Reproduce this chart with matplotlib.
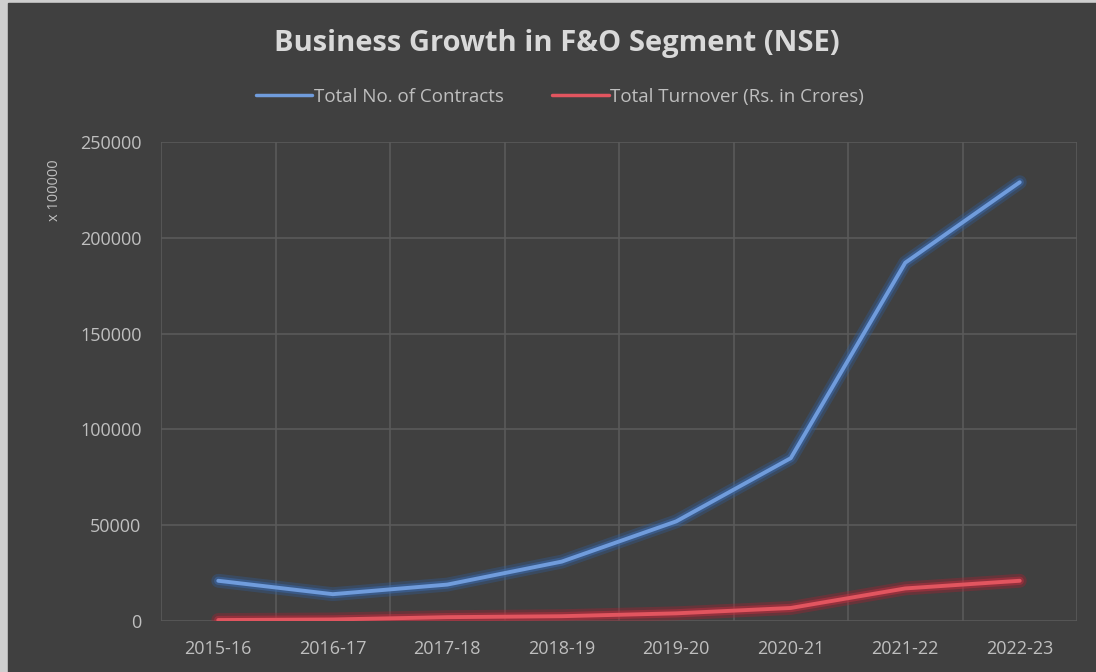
import matplotlib.pyplot as plt
import matplotlib.patches as mpatches
import matplotlib.patheffects as pe

# data
years = ['2015-16', '2016-17', '2017-18', '2018-19', '2019-20', '2020-21', '2021-22', '2022-23']
contracts = [21000, 14000, 19000, 31000, 52000, 85000, 187000, 229000]
turnover = [500, 800, 2000, 2500, 4000, 6800, 17000, 21000]
yticks = [0, 50000, 100000, 150000, 200000, 250000]

bg = '#404040'
txt = '#bfbfbf'
grid = '#5a5a5a'

fig = plt.figure(figsize=(10.96, 6.72), dpi=100)
fig.patch.set_facecolor('#cfcfcf')
# dark chart area, light strip on left and top like the screenshot
fig.patches.append(mpatches.Rectangle((8/1096, 0), 1, 1 - 3/672, transform=fig.transFigure,
                                      color=bg, zorder=-10))

ax = fig.add_axes([161/1096, 1 - 621/672, 916/1096, 479/672])
ax.set_facecolor(bg)
for s in ax.spines.values():
    s.set_visible(False)

x = list(range(len(years)))
glow_b = [pe.Stroke(linewidth=10, foreground='#2f5f9e', alpha=0.35),
          pe.Stroke(linewidth=6, foreground='#3a6bb0', alpha=0.5), pe.Normal()]
glow_r = [pe.Stroke(linewidth=10, foreground='#b02030', alpha=0.35),
          pe.Stroke(linewidth=6, foreground='#c03040', alpha=0.5), pe.Normal()]
ax.plot(x, contracts, color='#709cdc', lw=2.8, solid_capstyle='round',
        path_effects=glow_b, label='Total No. of Contracts', zorder=3)
ax.plot(x, turnover, color='#e2555f', lw=2.8, solid_capstyle='round',
        path_effects=glow_r, label='Total Turnover (Rs. in Crores)', zorder=3)

ax.set_xlim(-0.5, len(years) - 0.5)
ax.set_ylim(0, 250000)
ax.set_yticks(yticks)
ax.set_yticklabels([str(v) for v in yticks])
ax.set_xticks(x)
ax.set_xticklabels(years)
ax.set_xticks([i - 0.5 for i in range(len(years) + 1)], minor=True)
ax.grid(True, which='minor', axis='x', color=grid, lw=1.2)
ax.grid(True, which='major', axis='y', color=grid, lw=1.2)
ax.tick_params(which='both', length=0)
ax.tick_params(axis='y', colors=txt, labelsize=13, pad=14)
ax.tick_params(axis='x', colors=txt, labelsize=13, pad=14)
for lab in ax.get_xticklabels() + ax.get_yticklabels():
    lab.set_fontfamily('Open Sans')
ax.set_axisbelow(True)

fig.text(55/1096, 1 - 190/672, 'x 100000', rotation=90, color=txt, fontsize=10.5,
         ha='center', va='center', family='Open Sans')

fig.text(557/1096, 1 - 43/672, 'Business Growth in F&O Segment (NSE)', color='#d9d9d9',
         fontsize=21, fontweight='bold', ha='center', va='center', family='Open Sans')

leg = fig.legend(loc='center', bbox_to_anchor=(560/1096, 1 - 97/672), ncol=2, frameon=False,
                 labelcolor=txt, handlelength=3.0, handletextpad=0.1,
                 columnspacing=2.6, prop={'family': 'Open Sans', 'size': 13.5})
for h in leg.get_lines():
    h.set_linewidth(2.5)
    h.set_path_effects([])

fig.savefig('out.png', dpi=100, facecolor=fig.get_facecolor())
